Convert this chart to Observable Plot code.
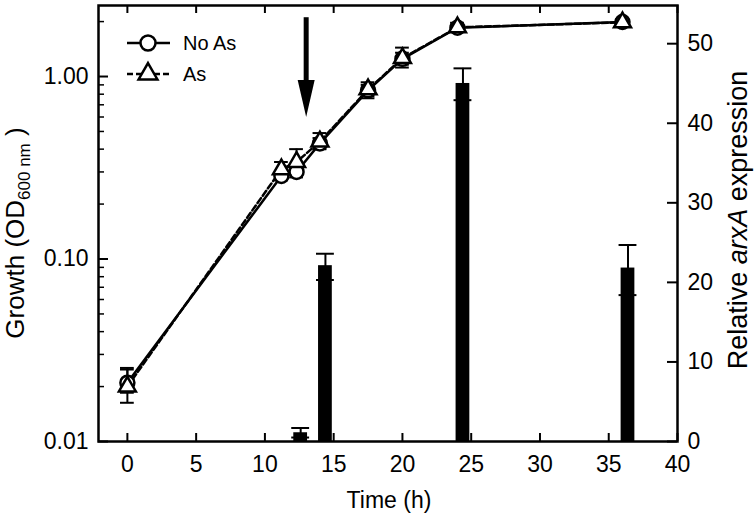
<!DOCTYPE html>
<html><head><meta charset="utf-8">
<script src="https://cdn.jsdelivr.net/npm/d3@7"></script>
<script src="https://cdn.jsdelivr.net/npm/@observablehq/plot@0.6"></script>
<style>
body{margin:0;background:#fff}
#chart{position:relative;width:755px;height:521px}
#chart svg{position:absolute;left:0;top:0}
</style>
</head><body><div id="chart"></div>
<script>
// ---- data ----
const times   = [0, 11.2, 12.3, 14, 17.5, 20, 24, 36];
const noAsOD  = [0.021, 0.285, 0.300, 0.43, 0.84, 1.25, 1.85, 1.99];
const noAsLo  = [0.0163, 0.27, 0.28, 0.40, 0.78, 1.16, 1.78, 1.93];
const noAsHi  = [0.0253, 0.30, 0.32, 0.46, 0.90, 1.35, 1.92, 2.05];
const asOD    = [0.020, 0.31, 0.34, 0.44, 0.85, 1.26, 1.86, 1.98];
const asLo    = [0.0185, 0.28, 0.30, 0.40, 0.76, 1.12, 1.78, 1.92];
const asHi    = [0.0248, 0.34, 0.40, 0.49, 0.93, 1.44, 1.97, 2.05];
const barTimes = [12.6, 14.4, 24.4, 36.4];
const arxA     = [1.1, 22.1, 45.0, 21.8];
const arxALo   = [0.5, 20.3, 42.9, 18.4];
const arxAHi   = [1.7, 23.6, 46.9, 24.7];
const xTicks     = [0, 5, 10, 15, 20, 25, 30, 35, 40];
const logMajor   = [0.01, 0.1, 1];
const logMinor   = [0.02,0.03,0.04,0.05,0.06,0.07,0.08,0.09,0.2,0.3,0.4,0.5,0.6,0.7,0.8,0.9,2];
const rightTicks = [0, 10, 20, 30, 40, 50];
const arrowTime = 13, arrowTop = 2.1, arrowShaftEnd = 0.85, arrowTip = 0.6;
const legendLabels = ["No As", "As"];

// ---- layout ----
const W = 755, H = 521, mL = 98, mR = 78, mT = 5, mB = 80;
const plotW = W - mL - mR, plotH = H - mT - mB;
const font = "'Liberation Sans', Arial, Helvetica, sans-serif";
const xDomain = [-2.1, 40];
const circleR = 7, triR = 6.3;

const noAs = times.map((t, i) => ({t, od: noAsOD[i], lo: noAsLo[i], hi: noAsHi[i]}));
const withAs = times.map((t, i) => ({t, od: asOD[i], lo: asLo[i], hi: asHi[i]}));
const bars = barTimes.map((t, i) => ({t, v: arxA[i], lo: arxALo[i], hi: arxAHi[i]}));

const common = {width: W, height: H, marginLeft: mL, marginRight: mR, marginTop: mT, marginBottom: mB};

const barPlot = Plot.plot({
  ...common,
  style: {fontFamily: font, fontSize: "23px", background: "white", color: "black"},
  x: {domain: xDomain, axis: null},
  y: {domain: [0, 54.8], axis: null},
  marks: [
    Plot.rect(bars, {x1: d => d.t - 0.5, x2: d => d.t + 0.5, y1: 0, y2: "v", fill: "black"}),
    Plot.ruleX(bars, {x: "t", y1: "lo", y2: "hi", stroke: "black", strokeWidth: 2}),
    Plot.ruleY(bars, {y: "hi", x1: d => d.t - 0.65, x2: d => d.t + 0.65, stroke: "black", strokeWidth: 2}),
    Plot.ruleY(bars, {y: "lo", x1: d => d.t - 0.65, x2: d => d.t + 0.65, stroke: "black", strokeWidth: 2}),
    Plot.axisY(rightTicks, {anchor: "right", tickSize: 0, tickPadding: 10, label: null}),
    Plot.tickY(rightTicks, {y: d => d, insetLeft: plotW - 10, stroke: "black", strokeWidth: 2})
  ]
});

const arrowHead = {draw(ctx) { ctx.moveTo(0, 0); ctx.lineTo(-8.5, -37); ctx.lineTo(8.5, -37); ctx.closePath(); }};

const errMarks = (data) => [
  Plot.ruleX(data, {x: "t", y1: "lo", y2: "hi", stroke: "black", strokeWidth: 2}),
  Plot.ruleY(data, {y: "hi", x1: d => d.t - 0.5, x2: d => d.t + 0.5, stroke: "black", strokeWidth: 2}),
  Plot.ruleY(data, {y: "lo", x1: d => d.t - 0.5, x2: d => d.t + 0.5, stroke: "black", strokeWidth: 2})
];

const growthPlot = Plot.plot({
  ...common,
  style: {fontFamily: font, fontSize: "23px", background: "transparent", color: "black"},
  x: {domain: xDomain, axis: null},
  y: {type: "log", domain: [0.01, 2.45], axis: null},
  marks: [
    Plot.axisX(xTicks, {anchor: "bottom", tickSize: 0, tickPadding: 14, label: null, tickFormat: d => String(d)}),
    Plot.tickX(xTicks, {x: d => d, insetTop: plotH - 8, stroke: "black", strokeWidth: 2}),
    Plot.tickX(xTicks, {x: d => d, insetBottom: plotH - 8, stroke: "black", strokeWidth: 2}),
    Plot.axisY(logMajor, {anchor: "left", tickSize: 0, tickPadding: 10, label: null, tickFormat: d => d.toFixed(2)}),
    Plot.tickY(logMajor, {y: d => d, insetRight: plotW - 10, stroke: "black", strokeWidth: 2}),
    Plot.tickY(logMinor, {y: d => d, insetRight: plotW - 6, stroke: "black", strokeWidth: 1.5}),
    Plot.line(withAs, {x: "t", y: "od", stroke: "black", strokeWidth: 2.5, strokeDasharray: "6,3"}),
    Plot.line(noAs, {x: "t", y: "od", stroke: "black", strokeWidth: 2.5}),
    ...errMarks(noAs),
    ...errMarks(withAs),
    Plot.dot(noAs, {x: "t", y: "od", r: circleR, fill: "white", stroke: "black", strokeWidth: 2.5}),
    Plot.dot(withAs, {x: "t", y: "od", r: triR, symbol: "triangle", fill: "white", stroke: "black", strokeWidth: 2.5}),
    Plot.ruleX([arrowTime], {x: d => d, y1: arrowTop, y2: arrowShaftEnd, stroke: "black", strokeWidth: 5}),
    Plot.dot([arrowTime], {x: d => d, y: arrowTip, symbol: arrowHead, r: 5, fill: "black", stroke: "none"}),
    Plot.frame({stroke: "black", strokeWidth: 2.5})
  ]
});

const chart = document.getElementById("chart");
chart.appendChild(barPlot);
chart.appendChild(growthPlot);

// ---- titles and legend ----
const svg = d3.select(growthPlot);
const g = svg.append("g").attr("font-family", font).attr("fill", "black");

g.append("text").attr("x", 389).attr("y", 508).attr("text-anchor", "middle")
  .attr("font-size", 23).text("Time (h)");

const lt = g.append("text").attr("transform", "translate(24,233) rotate(-90)")
  .attr("text-anchor", "middle").attr("font-size", 26);
lt.append("tspan").text("Growth (OD");
lt.append("tspan").attr("font-size", 17).attr("dy", 6).text("600 nm");
lt.append("tspan").attr("dy", -6).text(" )");

const rt = g.append("text").attr("transform", "translate(747,220) rotate(-90)")
  .attr("text-anchor", "middle").attr("font-size", 27);
rt.append("tspan").text("Relative ");
rt.append("tspan").attr("font-style", "italic").text("arxA");
rt.append("tspan").text(" expression");

// legend
const lg = svg.append("g").attr("font-family", font);
const rows = [43, 74];
lg.append("line").attr("x1", 127).attr("x2", 170).attr("y1", rows[0]).attr("y2", rows[0])
  .attr("stroke", "black").attr("stroke-width", 2.5);
lg.append("circle").attr("cx", 148).attr("cy", rows[0]).attr("r", 7.5)
  .attr("fill", "white").attr("stroke", "black").attr("stroke-width", 2.5);
lg.append("line").attr("x1", 127).attr("x2", 170).attr("y1", rows[1]).attr("y2", rows[1])
  .attr("stroke", "black").attr("stroke-width", 2.5).attr("stroke-dasharray", "6,3");
lg.append("path").attr("transform", `translate(148,${rows[1]})`)
  .attr("d", d3.symbol(d3.symbolTriangle, 7 * 7 * Math.PI)())
  .attr("fill", "white").attr("stroke", "black").attr("stroke-width", 2.5);
legendLabels.forEach((lab, i) => {
  lg.append("text").attr("x", 183).attr("y", rows[i]).attr("dy", "0.36em")
    .attr("text-anchor", "start").attr("font-size", 20).attr("fill", "black").text(lab);
});
</script>
</body></html>
